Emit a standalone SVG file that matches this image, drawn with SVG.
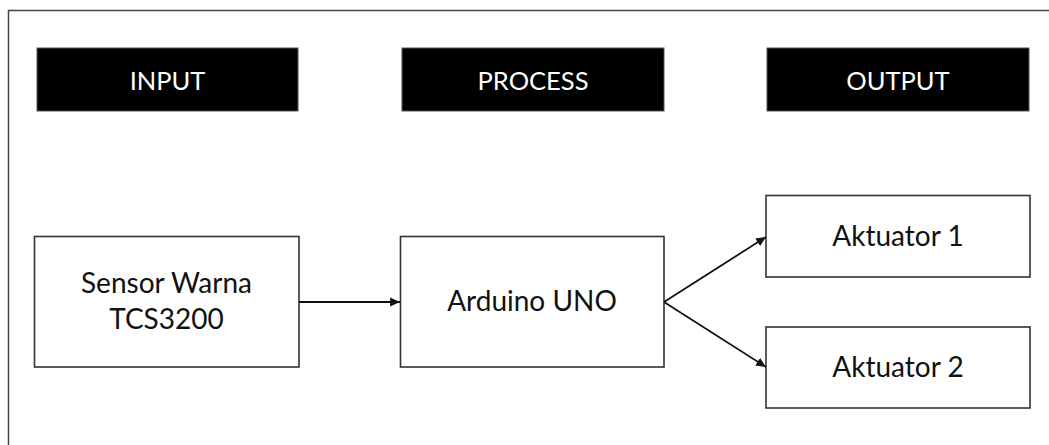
<svg xmlns="http://www.w3.org/2000/svg" width="1049" height="445" viewBox="0 0 1049 445">
<style>
.hdr{fill:#000;stroke:#555;stroke-width:1}
.hdrt{fill:#fff;font-family:Lato,"Open Sans",sans-serif;font-size:25.5px;text-anchor:middle}
.box{fill:#fff;stroke:#333;stroke-width:1.6}
.t{fill:#111;font-family:Lato,"Open Sans",sans-serif;font-size:28px;text-anchor:middle}
.c{stroke:#111;stroke-width:1.8;fill:none;marker-end:url(#ah)}
</style>
<defs>
<marker id="ah" viewBox="0 0 10 10" refX="10" refY="5" markerWidth="5.5" markerHeight="5.5" markerUnits="strokeWidth" orient="auto">
<path d="M0,0.5 L10,5 L0,9.5 z" fill="#111"/>
</marker>
</defs>
<rect width="1049" height="445" fill="#fff"/>
<path d="M8.5,445 V10.5 H1049" fill="none" stroke="#444" stroke-width="1.5"/>
<g id="input-header"><rect class="hdr" x="37" y="48" width="261" height="63"/><text class="hdrt" x="167.5" y="90">INPUT</text></g>
<g id="process-header"><rect class="hdr" x="402" y="48" width="262" height="63"/><text class="hdrt" x="533" y="90">PROCESS</text></g>
<g id="output-header"><rect class="hdr" x="767" y="48" width="262" height="63"/><text class="hdrt" x="898" y="90">OUTPUT</text></g>
<g id="sensor"><rect class="box" x="34.5" y="236.5" width="264.5" height="130.5"/><text class="t" x="166.5" y="293">Sensor Warna</text><text class="t" x="166.5" y="329">TCS3200</text></g>
<g id="arduino"><rect class="box" x="400.5" y="236.5" width="263.5" height="130.5"/><text class="t" x="532" y="311">Arduino UNO</text></g>
<g id="aktuator1"><rect class="box" x="766" y="195.5" width="264" height="81.5"/><text class="t" x="898" y="246">Aktuator 1</text></g>
<g id="aktuator2"><rect class="box" x="766" y="327" width="264" height="81"/><text class="t" x="898" y="377">Aktuator 2</text></g>
<g id="connectors">
<line class="c" x1="299" y1="302" x2="400" y2="302"/>
<line class="c" x1="664" y1="302" x2="766" y2="237"/>
<line class="c" x1="664" y1="302" x2="766" y2="367"/>
</g>
</svg>
